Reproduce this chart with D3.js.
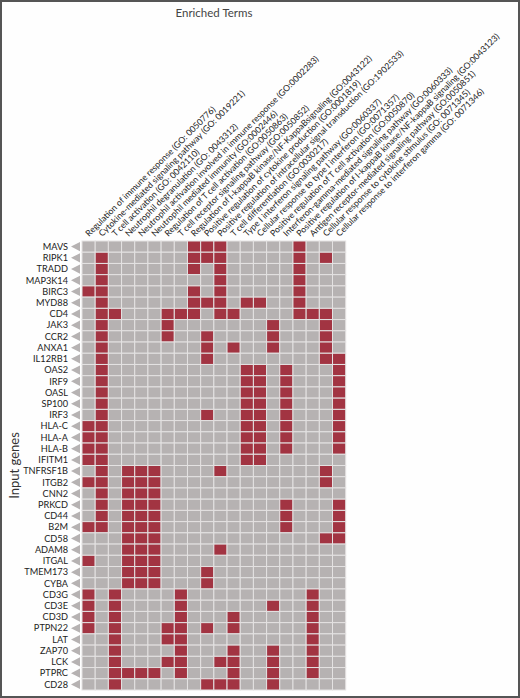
<!DOCTYPE html>
<html>
<head>
<meta charset="utf-8">
<title>Enriched Terms</title>
<script src="https://cdn.jsdelivr.net/npm/d3@7"></script>
<style>
body { margin: 0; background: #fff; }
svg { display: block; }
.gene { font: 9.2px Lato, sans-serif; fill: #222; }
.term { font: 8.7px Lato, sans-serif; fill: #222; }
.title { font: 11.5px Lato, sans-serif; fill: #444; }
</style>
</head>
<body>
<svg width="520" height="698"></svg>
<script>

var terms = [
  "Regulation of immune response (GO: 0050776)",
  "Cytokine-mediated signaling pathway (GO: 0019221)",
  "T cell activation (GO: 0042110)",
  "Neutrophil degranulation (GO: 0043312)",
  "Neutrophil activation involved in immune response (GO:0002283)",
  "Neutrophil mediated immunity (GO:0002446)",
  "Regulation of T cell activation (GO:0050863)",
  "T cell receptor signaling pathway (GO:0050852)",
  "Regulation of I-kappaB kinase/NF-KappaBsignaling (GO:0043122)",
  "Positive regulation of cytokine production (GO:0001819)",
  "Positive regulation of intracellular signal transduction (GO:1902533)",
  "T cell differentiation (GO:0030217)",
  "Type I interferon signaling pathway (GO:0060337)",
  "Cellular response to type I interferon (GO:0071357)",
  "Positive regulation of T cell activation (GO:0050870)",
  "Interferon-gamma-mediated signaling pathway (GO:0060333)",
  "Positive regulation of I-kappaB kinase/NF-kappaB signaling (GO:0043123)",
  "Antigen receptor-mediated signaling pathway (GO:0050851)",
  "Cellular response to cytokine stimulus (GO: 0071345)",
  "Cellular response to interferon gamma (GO: 0071346)"
];

var genes = ["MAVS", "RIPK1", "TRADD", "MAP3K14", "BIRC3", "MYD88", "CD4", "JAK3",
  "CCR2", "ANXA1", "IL12RB1", "OAS2", "IRF9", "OASL", "SP100", "IRF3", "HLA-C",
  "HLA-A", "HLA-B", "IFITM1", "TNFRSF1B", "ITGB2", "CNN2", "PRKCD", "CD44", "B2M",
  "CD58", "ADAM8", "ITGAL", "TMEM173", "CYBA", "CD3G", "CD3E", "CD3D", "PTPN22",
  "LAT", "ZAP70", "LCK", "PTPRC", "CD28"];

// enriched term numbers (1-based, in the order of terms) for each gene
var hits = [
  [9, 10, 11, 17],
  [2, 9, 10, 11, 17, 19],
  [2, 9, 11, 17],
  [2, 11, 17],
  [1, 2, 9, 11, 17],
  [2, 9, 10, 11, 13, 14, 17],
  [2, 3, 7, 8, 9, 11, 12, 17, 18, 19],
  [2, 7, 15, 19],
  [2, 7, 10, 15, 19],
  [2, 10, 12, 15, 19],
  [2, 10, 19, 20],
  [2, 13, 14, 16, 20],
  [2, 13, 14, 16, 20],
  [2, 13, 14, 16, 20],
  [2, 13, 14, 16, 20],
  [2, 10, 13, 14, 16, 20],
  [1, 2, 13, 14, 16, 20],
  [1, 2, 13, 14, 16, 20],
  [1, 2, 13, 14, 16, 20],
  [1, 2, 13, 14],
  [2, 4, 5, 6, 11, 19],
  [1, 2, 4, 5, 6, 19],
  [2, 4, 5, 6],
  [2, 4, 5, 6, 16, 20],
  [2, 4, 5, 6, 16, 20],
  [1, 2, 4, 5, 6, 16, 20],
  [4, 5, 6, 19, 20],
  [4, 5, 6, 11],
  [1, 4, 5, 6],
  [4, 5, 6, 10],
  [4, 5, 6, 10],
  [1, 3, 8, 18],
  [1, 3, 8, 15, 18],
  [1, 3, 8, 12, 18],
  [1, 3, 7, 8, 10, 12, 18],
  [3, 7, 8, 18],
  [3, 8, 12, 15, 18],
  [3, 7, 8, 11, 12, 15, 18],
  [3, 4, 5, 6, 8, 12, 15, 18],
  [3, 10, 11, 12, 15]
];

var svg = d3.select("svg"),
    width = +svg.attr("width"),
    height = +svg.attr("height");

var grid = {left: 82, right: 345.7, top: 241, bottom: 690};

// frame round the figure
svg.append("rect")
    .attr("x", 1).attr("y", 1)
    .attr("width", width - 2).attr("height", height - 2)
    .attr("fill", "#fefefe")
    .attr("stroke", "#555")
    .attr("stroke-width", 2);

var x = d3.scaleBand()
    .domain(d3.range(1, terms.length + 1))
    .range([grid.left, grid.right]);

var y = d3.scaleBand()
    .domain(genes)
    .range([grid.top, grid.bottom]);

var cells = [];
genes.forEach(function(g, i) {
  terms.forEach(function(t, j) {
    cells.push({gene: g, term: j + 1, on: hits[i].indexOf(j + 1) >= 0});
  });
});

svg.append("g").selectAll("rect")
    .data(cells)
  .enter().append("rect")
    .attr("x", function(d) { return x(d.term); })
    .attr("y", function(d) { return y(d.gene); })
    .attr("width", x.bandwidth())
    .attr("height", y.bandwidth())
    .attr("fill", function(d) { return d.on ? "#a23442" : "#b6b2b2"; })
    .attr("stroke", "#e4e2e2")
    .attr("stroke-width", 1);

// gene labels with little arrow heads
var rows = svg.append("g").selectAll("g")
    .data(genes)
  .enter().append("g")
    .attr("transform", function(d) { return "translate(0," + (y(d) + y.bandwidth() / 2) + ")"; });

rows.append("path")
    .attr("d", "M71,0L80,-4.6L80,4.6Z")
    .attr("fill", "#b6b2b2");

rows.append("text")
    .attr("class", "gene")
    .attr("x", 68)
    .attr("dy", "0.35em")
    .attr("text-anchor", "end")
    .text(function(d) { return d; });

// slanted term labels
svg.append("g").selectAll("text")
    .data(terms)
  .enter().append("text")
    .attr("class", "term")
    .attr("transform", function(d, i) {
      return "translate(" + (x(i + 1) + x.bandwidth() / 2 + 0.5) + "," + (grid.top - 4) + ") rotate(-45)";
    })
    .text(function(d) { return d; });

svg.append("text")
    .attr("class", "title")
    .attr("x", 214)
    .attr("y", 17)
    .attr("text-anchor", "middle")
    .text("Enriched Terms");

svg.append("text")
    .attr("class", "title")
    .attr("transform", "translate(19," + ((grid.top + grid.bottom) / 2) + ") rotate(-90)")
    .attr("text-anchor", "middle")
    .style("font-size", "13px")
    .style("fill", "#333")
    .text("Input genes");

</script>
</body>
</html>
